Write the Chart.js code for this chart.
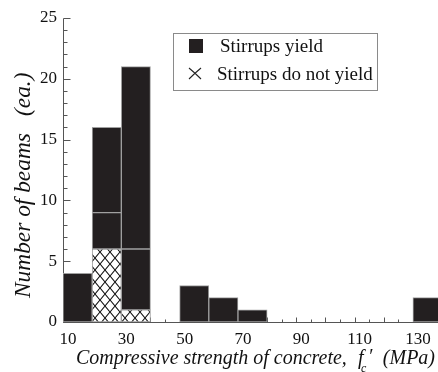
<!DOCTYPE html>
<html>
<head>
<meta charset="utf-8">
<script src="https://cdn.jsdelivr.net/npm/chart.js@4.4.1/dist/chart.umd.min.js"></script>
<style>
  html, body { margin: 0; padding: 0; background: #fff; }
  #wrap { width: 438px; height: 372px; position: relative; }
</style>
</head>
<body>
<div id="wrap"><canvas id="c" width="438" height="372"></canvas></div>
<script>
// Histogram of beams by concrete compressive strength (bin width 10 MPa)
const binCenters = [15, 25, 35, 55, 65, 75, 135];
const notYield    = [0, 6, 1, 0, 0, 0, 0];   // stirrups do not yield
const yieldLower  = [4, 3, 5, 3, 2, 1, 2];   // stirrups yield (first group)
const yieldUpper  = [0, 7, 15, 0, 0, 0, 0];  // stirrups yield (second group)
const xTickLabels = [10, 30, 50, 70, 90, 110, 130];
const yTickLabels = [0, 5, 10, 15, 20, 25];
const legendLabels = ['Stirrups yield', 'Stirrups do not yield'];

const SERIF = '"Liberation Serif", "DejaVu Serif", serif';
const BAR_FILL = '#231f20';
const BAR_EDGE = '#a0a0a0';
const AXIS = '#555';

function toPoints(arr) {
  return binCenters.map((x, i) => ({ x: x, y: arr[i] })).filter(p => p.y > 0);
}

// cross-hatch fill for the "do not yield" bars
function makeHatch() {
  const w = 10, h = 12;
  const pc = document.createElement('canvas');
  pc.width = w; pc.height = h;
  const g = pc.getContext('2d');
  g.fillStyle = '#fff';
  g.fillRect(0, 0, w, h);
  g.strokeStyle = '#111';
  g.lineWidth = 1.1;
  g.beginPath();
  g.moveTo(0, 0); g.lineTo(w, h);
  g.moveTo(w, 0); g.lineTo(0, h);
  g.stroke();
  return document.getElementById('c').getContext('2d').createPattern(pc, 'repeat');
}

// axis lines and inward tick marks
const axesPlugin = {
  id: 'axesPlugin',
  beforeDatasetsDraw(chart) {
    const { ctx, chartArea: a, scales: { x, y } } = chart;
    ctx.save();
    ctx.strokeStyle = AXIS;
    ctx.lineWidth = 1;
    ctx.beginPath();
    const x0 = Math.round(a.left) + 0.5;
    const y0 = Math.round(y.getPixelForValue(0)) + 0.5;
    ctx.moveTo(x0, Math.round(y.getPixelForValue(25)) + 0.5);
    ctx.lineTo(x0, y0);
    ctx.lineTo(a.right + 5, y0);
    for (let v = 0; v <= 25; v++) {
      const py = Math.round(y.getPixelForValue(v)) + 0.5;
      const len = v % 5 === 0 ? 7 : 4;
      ctx.moveTo(x0, py); ctx.lineTo(x0 + len, py);
    }
    for (let v = 10; v <= 140; v += 5) {
      const px = Math.round(x.getPixelForValue(v)) + 0.5;
      if (px > a.right) break;
      const len = v % 10 === 0 ? 5 : 3;
      ctx.moveTo(px, y0); ctx.lineTo(px, y0 - len);
    }
    ctx.stroke();
    ctx.restore();
  }
};

function fitFont(ctx, text, style, target) {
  ctx.font = style + ' 20px ' + SERIF;
  const w = ctx.measureText(text).width;
  return 20 * target / w;
}

// legend box, axis titles
const decorPlugin = {
  id: 'decorPlugin',
  afterDraw(chart) {
    const ctx = chart.ctx;
    ctx.save();
    // legend
    ctx.strokeStyle = '#8a8a8a';
    ctx.lineWidth = 1;
    ctx.strokeRect(173.5, 33.5, 204, 57);
    ctx.fillStyle = BAR_FILL;
    ctx.fillRect(189, 39, 14, 14);
    ctx.strokeStyle = '#222';
    ctx.lineWidth = 1.1;
    ctx.beginPath();
    ctx.moveTo(189, 68); ctx.quadraticCurveTo(195, 73, 201, 79);
    ctx.moveTo(201, 68); ctx.quadraticCurveTo(195, 73, 189, 79);
    ctx.stroke();
    ctx.fillStyle = '#111';
    ctx.font = '19px ' + SERIF;
    ctx.textBaseline = 'middle';
    ctx.textAlign = 'left';
    ctx.fillText(legendLabels[0], 220, 47);
    ctx.fillText(legendLabels[1], 217, 75);

    // x title with subscript
    const main = 'Compressive strength of concrete,';
    const fs = fitFont(ctx, main, 'italic', 271);
    ctx.font = 'italic ' + fs + 'px ' + SERIF;
    ctx.textBaseline = 'alphabetic';
    const base = 364;
    ctx.fillText(main, 76, base);
    ctx.fillText('f', 358, base);
    ctx.fillText('\u2032', 368, base - 1);
    const mpa = '(MPa)';
    ctx.fillText(mpa, 435 - ctx.measureText(mpa).width, base);
    ctx.font = 'italic ' + (fs * 0.6) + 'px ' + SERIF;
    ctx.fillText('c', 361, base + 8);

    // y title (rotated, reads bottom to top)
    const yt1 = 'Number of beams';
    const yfs = fitFont(ctx, yt1, 'italic', 165);
    ctx.font = 'italic ' + yfs + 'px ' + SERIF;
    ctx.translate(30, 0);
    ctx.rotate(-Math.PI / 2);
    ctx.textBaseline = 'alphabetic';
    ctx.fillText(yt1, -298, 0);
    ctx.fillText('(ea.)', -116, 0);
    ctx.restore();
  }
};

const hatch = makeHatch();

new Chart(document.getElementById('c'), {
  type: 'bar',
  data: {
    datasets: [
      { label: legendLabels[1], data: toPoints(notYield), backgroundColor: hatch,
        borderColor: BAR_EDGE, borderWidth: 1, borderSkipped: false },
      { label: legendLabels[0], data: toPoints(yieldLower), backgroundColor: BAR_FILL,
        borderColor: BAR_EDGE, borderWidth: 1, borderSkipped: false },
      { label: legendLabels[0], data: toPoints(yieldUpper), backgroundColor: BAR_FILL,
        borderColor: BAR_EDGE, borderWidth: 1, borderSkipped: false }
    ]
  },
  options: {
    responsive: false,
    animation: false,
    events: [],
    layout: { padding: { left: 0, right: 0, top: 18, bottom: 0 } },
    plugins: { legend: { display: false }, tooltip: { enabled: false } },
    datasets: { bar: { barPercentage: 1, categoryPercentage: 1 } },
    scales: {
      x: {
        type: 'linear', min: 10, max: 138.6, offset: false, stacked: true,
        grid: { display: false, drawTicks: false }, border: { display: false },
        afterFit: s => { s.height = 50; },
        ticks: {
          stepSize: 10, includeBounds: false, autoSkip: false, maxRotation: 0,
          padding: 7, labelOffset: 5, color: '#111',
          font: { family: SERIF, size: 17 },
          callback: v => (xTickLabels.includes(v) ? String(v) : '')
        }
      },
      y: {
        min: 0, max: 25, stacked: true,
        grid: { display: false, drawTicks: false }, border: { display: false },
        afterFit: s => { s.width = 63; },
        ticks: {
          stepSize: 5, padding: 6, color: '#111',
          font: { family: SERIF, size: 17 },
          callback: v => (yTickLabels.includes(v) ? String(v) : '')
        }
      }
    }
  },
  plugins: [axesPlugin, decorPlugin]
});
</script>
</body>
</html>
